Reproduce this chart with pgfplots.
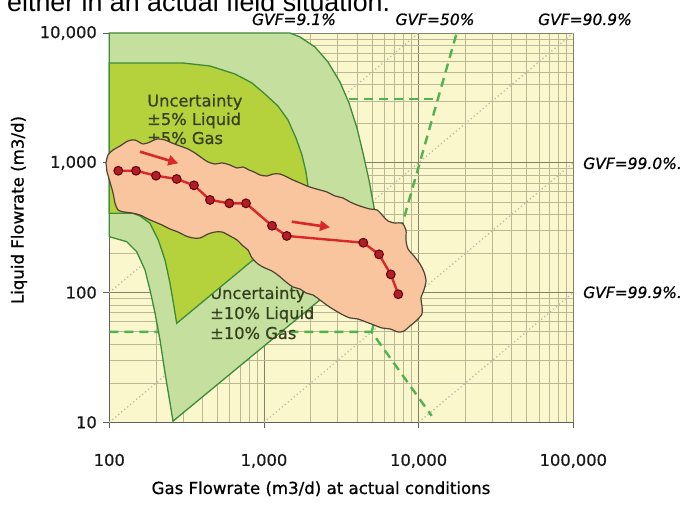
\documentclass[border=0pt]{standalone}
\usepackage{pgfplots}
\pgfplotsset{compat=1.18}
\usepackage{fontspec}
\setmainfont{DejaVu Sans}[RawFeature={embolden=0.7}]
\usetikzlibrary{arrows.meta}
\definecolor{bgyel}{HTML}{FAF7CC}
\definecolor{gridmin}{HTML}{BAB895}
\definecolor{gridmaj}{HTML}{828169}
\definecolor{lgreen}{HTML}{C5DF9E}
\definecolor{mgreen}{HTML}{B5D13C}
\definecolor{gline}{HTML}{3C8C38}
\definecolor{dashg}{HTML}{52B252}
\definecolor{peach}{HTML}{F8C59E}
\definecolor{blobline}{HTML}{4E4332}
\definecolor{redl}{HTML}{D8282A}
\definecolor{redm}{HTML}{B01E28}
\definecolor{txtg}{HTML}{34401E}
\definecolor{gvfdot}{HTML}{BDBCAA}
\newcommand{\lab}{\fontsize{16.3}{19}\selectfont}
\begin{document}
\begin{tikzpicture}[x=1pt,y=1pt]
\useasboundingbox (0,0) rectangle (683,506);
\clip (0,0) rectangle (683,506);
\node[anchor=base west, inner sep=0pt, font=\fontspec{Liberation Sans}\fontsize{26.8}{30}\selectfont] at (7,494) {either in an actual field situation.};
\begin{axis}[
  at={(109.3pt,83.7pt)}, anchor=south west, scale only axis,
  width=464pt, height=389.3pt,
  xmode=log, ymode=log,
  xmin=100, xmax=100000, ymin=10, ymax=10000,
  clip=false,
  axis background/.style={fill=bgyel},
  axis x line*=bottom, axis y line*=left,
  axis line style={draw=gray!75!black, line width=0.8pt},
  xtick={100,1000,10000,100000},
  xticklabels={100,{1,000},{10,000},{100,000}},
  ytick={10,100,1000,10000},
  yticklabels={10,100,{1,000},{10,000}},
  minor xtick={200,300,400,500,600,700,800,900,2000,3000,4000,5000,6000,7000,8000,9000,20000,30000,40000,50000,60000,70000,80000,90000},
  minor ytick={20,30,40,50,60,70,80,90,200,300,400,500,600,700,800,900,2000,3000,4000,5000,6000,7000,8000,9000},
  grid=both,
  major grid style={draw=gridmaj, line width=0.9pt},
  minor grid style={draw=gridmin, line width=0.6pt},
  tick align=outside,
  major tick length=6pt, minor tick length=0pt,
  tick style={draw=gray!75!black, line width=0.8pt},
  ticklabel style={font=\lab, text=black!90},
  xticklabel style={yshift=-22pt},
  yticklabel style={xshift=-3pt},
]
% GVF lines (dotted)
\addplot[gvfdot, line width=1.3pt, dash pattern=on 1.3pt off 2.6pt] coordinates {(100,1000) (1000,10000)};
\addplot[gvfdot, line width=1.3pt, dash pattern=on 1.3pt off 2.6pt] coordinates {(100,100) (10000,10000)};
\addplot[gvfdot, line width=1.3pt, dash pattern=on 1.3pt off 2.6pt] coordinates {(100,10) (100000,10000)};
\addplot[gvfdot, line width=1.3pt, dash pattern=on 1.3pt off 2.6pt] coordinates {(1000,10) (100000,1000)};
\addplot[gvfdot, line width=1.3pt, dash pattern=on 1.3pt off 2.6pt] coordinates {(10000,10) (100000,100)};
% dashed green lines
\addplot[dashg, line width=2.4pt, dash pattern=on 9pt off 6pt] coordinates {(100,3100) (13240,3100)};
\addplot[dashg, line width=2.4pt, dash pattern=on 9pt off 6pt] coordinates {(100,49.7) (4963,49.7) (12150,11.2)};
\addplot[dashg, line width=2.4pt, dash pattern=on 9pt off 6pt] coordinates {(4963,49.7) (17620,10000)};
% +-10% uncertainty region
\addplot[fill=lgreen, draw=gline, line width=1.3pt] coordinates {
(100,10000) (1473,10000) (1710,9315) (2138,7800) (2594,5976) (3101,4192) (3546,2888)
(3995,1853) (4367,1189) (4775,737) (5143,456) (5459,278) (5625,178) (3101,117.6)
(258,10.2) (246.9,14.09) (229.2,24.0) (212.7,43.1) (197.5,69.6) (183.3,104.6)
(170.1,149.2) (150.4,206.4) (129.6,246.5) (100,269.3)} -- cycle;
\node[anchor=base west, inner sep=0pt, font=\lab, text=txtg] at (axis description cs:0.2170,0.3168) {Uncertainty};
\node[anchor=base west, inner sep=0pt, font=\lab, text=txtg] at (axis description cs:0.2170,0.2654) {±10\% Liquid};
\node[anchor=base west, inner sep=0pt, font=\lab, text=txtg] at (axis description cs:0.2170,0.2140) {±10\% Gas};
% +-5% uncertainty region
\addplot[fill=mgreen, draw=gline, line width=1.3pt] coordinates {
(100,5870) (299.6,5870) (447.7,5568) (649.6,4831) (836.8,4118) (1015,3387) (1232,2738)
(1430,2136) (1611,1552) (1761,1148) (1870,849) (1955,585) (2014,396) (1094,228.8)
(272.7,57.9) (262,77.8) (246.9,117.8) (229.2,178.1) (207.4,254) (183.3,341.6)
(157.9,388.9) (142.3,408) (100,408)} -- cycle;
\node[anchor=base west, inner sep=0pt, font=\lab, text=txtg] at (axis description cs:0.0813,0.8112) {Uncertainty};
\node[anchor=base west, inner sep=0pt, font=\lab, text=txtg] at (axis description cs:0.0813,0.7637) {±5\% Liquid};
\node[anchor=base west, inner sep=0pt, font=\lab, text=txtg] at (axis description cs:0.0813,0.7149) {±5\% Gas};
% operating envelope
\addplot[fill=peach, draw=blobline, line width=1.2pt, smooth, tension=0.5] coordinates {
(95.2,996) (98.1,1148) (105.7,1254) (117.3,1346) (132.1,1472) (146.6,1498) (165.1,1395)
(183.3,1446) (203.4,1525) (229.2,1498) (254.3,1420) (286.5,1346) (322.8,1277) (358.1,1189)
(397.5,1088) (434.6,1014) (482.4,978) (535.4,996) (602.9,961) (669.3,911) (731.9,928)
(800.2,880) (862.1,849) (942.6,805) (1046,791) (1144,819) (1269,819) (1409,777)
(1541,737) (1710,699) (1898,662) (2075,639) (2302,617) (2556,595) (2879,555) (3243,535)
(3599,499) (3995,473) (4367,456) (4848,440) (5379,433) (5884,389) (6339,356) (7033,343)
(7805,343) (8283,303) (8283,254) (8535,217) (9333,191) (10205,166) (10830,144)
(11160,123) (10830,105) (10356,90.8) (10512,78.8) (10512,68.3) (9614,60.4) (8792,55.2)
(8039,50.5) (7354,49.7) (6530,52.4) (5797,53.3) (5143,56.2) (4566,59.3) (4055,62.5)
(3599,63.7) (3243,67.2) (2922,72.1) (2594,78.8) (2302,87.6) (2075,95.7) (1870,99.2)
(1710,106.5) (1541,110.3) (1388,120.6) (1251,134.1) (1127,146.6) (1015,154.5) (915,165.9)
(836.8,184.6) (788.3,212.7) (731.9,228.4) (669.3,254) (602.9,272.7) (535.4,292.7)
(482.4,292.7) (434.6,282.5) (385.9,263.2) (347.6,263.2) (313.3,272.7) (278.1,292.7)
(246.9,308.7) (219.2,331.4) (197.5,349.5) (177.9,368.7) (157.9,395.8) (140.2,410.1)
(124.5,417.4) (113.8,432.6) (108.9,489.8) (105.7,584.9) (101.0,711) (96.6,849)} -- cycle;
% measured trajectory
\addplot[redl, line width=2.4pt, mark=*, mark size=4.4pt,
  mark options={fill=redm, draw=black!60!red, line width=1pt}] coordinates {
(114.3,868) (148.8,868) (200.4,795) (272.8,750) (352.8,670) (447.7,517) (596.9,487)
(765.4,487) (1127,327) (1403,273) (4387,242) (5542,197) (6607,138) (7387,97)};
% arrows
\addplot[redl, line width=2.6pt, -{Triangle[length=10pt,width=10pt]}] coordinates {(157.9,1217) (279.3,991)};
\addplot[redl, line width=2.6pt, -{Triangle[length=10pt,width=10pt]}] coordinates {(1511,351.5) (2672,318.3)};
\end{axis}
% annotations outside the plot area
\begin{scope}[every node/.style={inner sep=0pt, font=\lab}]
\node[anchor=base, font=\fontsize{15.5}{18}\selectfont\itshape] at (294,481) {GVF=9.1\%};
\node[anchor=base, font=\fontsize{15.5}{18}\selectfont\itshape] at (435,481) {GVF=50\%};
\node[anchor=base, font=\fontsize{15.5}{18}\selectfont\itshape] at (585,481) {GVF=90.9\%};
\node[anchor=base west, font=\fontsize{15.5}{18}\selectfont\itshape] at (583,337) {GVF=99.0\%.};
\node[anchor=base west, font=\fontsize{15.5}{18}\selectfont\itshape] at (583,208) {GVF=99.9\%.};
\node[rotate=90, anchor=center, font=\fontsize{16.6}{19}\selectfont] at (19,296) {Liquid Flowrate (m3/d)};
\node[anchor=base, font=\fontsize{16.6}{19}\selectfont] at (321,12) {Gas Flowrate (m3/d) at actual conditions};
\end{scope}
\end{tikzpicture}
\end{document}
